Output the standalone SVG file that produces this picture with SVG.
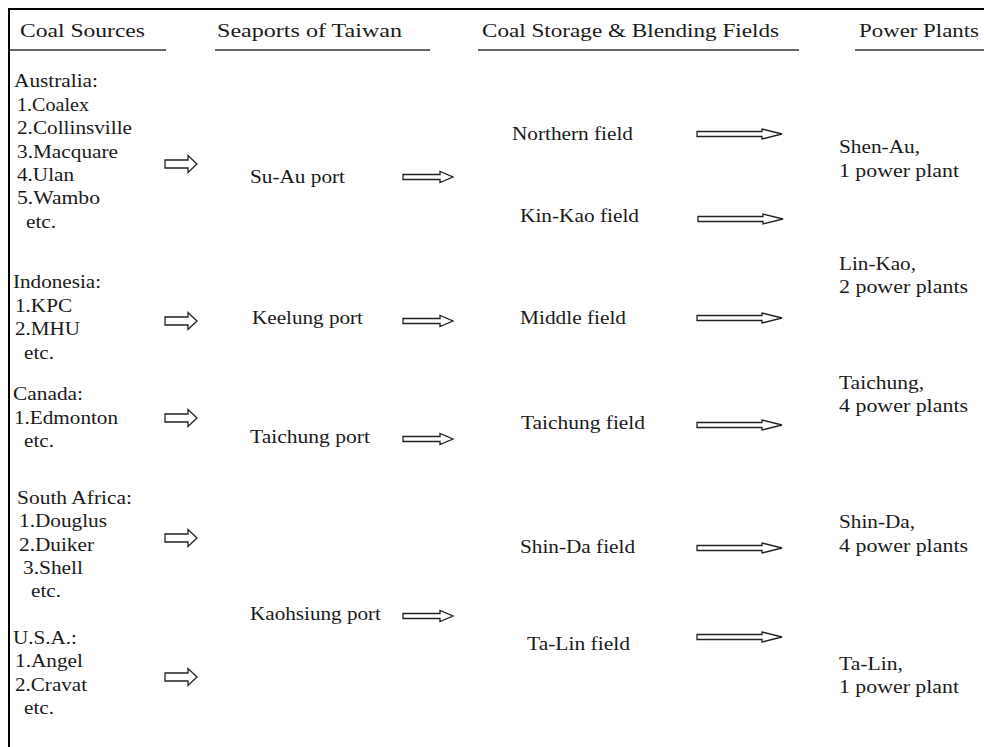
<svg xmlns="http://www.w3.org/2000/svg" width="984" height="747" viewBox="0 0 984 747">
<style>
text{font-family:"Liberation Serif","Times New Roman",serif;fill:#1a1a1a;font-size:18px}
.h{font-size:19px}
.ul{stroke:#333;stroke-width:1.5}
.bd{stroke:#000;stroke-width:2}
.ar{fill:#fff;stroke:#222;stroke-width:1.3;stroke-linejoin:miter}
</style>
<defs>
<path id="aL" class="ar" d="M0,-4 H23 V-8.5 L32,0 L23,8.5 V4 H0 Z"/>
<path id="aP" class="ar" d="M0,-2.5 H37 V-5.5 L50,0 L37,5.5 V2.5 H0 Z"/>
<path id="aF" class="ar" d="M0,-2.5 H65 V-5 L85,0 L65,5 V2.5 H0 Z"/>
</defs>
<g id="frame">
<line class="bd" x1="8" y1="9" x2="984" y2="9"/>
<line class="bd" x1="9" y1="8" x2="9" y2="747"/>
</g>
<g id="headers">
<text class="h" x="20" y="37" textLength="125" lengthAdjust="spacingAndGlyphs">Coal Sources</text>
<line class="ul" x1="10" y1="50" x2="166" y2="50"/>
<text class="h" x="217" y="37" textLength="185" lengthAdjust="spacingAndGlyphs">Seaports of Taiwan</text>
<line class="ul" x1="215" y1="50" x2="430" y2="50"/>
<text class="h" x="482" y="37" textLength="297" lengthAdjust="spacingAndGlyphs">Coal Storage &amp; Blending Fields</text>
<line class="ul" x1="478" y1="50" x2="799" y2="50"/>
<text class="h" x="859" y="37" textLength="120" lengthAdjust="spacingAndGlyphs">Power Plants</text>
<line class="ul" x1="855" y1="50" x2="984" y2="50"/>
</g>
<g id="src-australia">
<text x="14" y="87" textLength="84" lengthAdjust="spacingAndGlyphs">Australia:</text>
<text x="17" y="110.5" textLength="72" lengthAdjust="spacingAndGlyphs">1.Coalex</text>
<text x="17" y="134" textLength="115" lengthAdjust="spacingAndGlyphs">2.Collinsville</text>
<text x="17" y="157.5" textLength="101" lengthAdjust="spacingAndGlyphs">3.Macquare</text>
<text x="17" y="181" textLength="57" lengthAdjust="spacingAndGlyphs">4.Ulan</text>
<text x="17" y="204" textLength="83" lengthAdjust="spacingAndGlyphs">5.Wambo</text>
<text x="26" y="227.5" textLength="30" lengthAdjust="spacingAndGlyphs">etc.</text>
</g>
<g id="src-indonesia">
<text x="13" y="288" textLength="88" lengthAdjust="spacingAndGlyphs">Indonesia:</text>
<text x="15" y="312" textLength="57" lengthAdjust="spacingAndGlyphs">1.KPC</text>
<text x="15" y="335" textLength="65" lengthAdjust="spacingAndGlyphs">2.MHU</text>
<text x="24" y="358.5" textLength="30" lengthAdjust="spacingAndGlyphs">etc.</text>
</g>
<g id="src-canada">
<text x="13" y="400" textLength="70" lengthAdjust="spacingAndGlyphs">Canada:</text>
<text x="14" y="424" textLength="104" lengthAdjust="spacingAndGlyphs">1.Edmonton</text>
<text x="24" y="447" textLength="30" lengthAdjust="spacingAndGlyphs">etc.</text>
</g>
<g id="src-southafrica">
<text x="17" y="504" textLength="115" lengthAdjust="spacingAndGlyphs">South Africa:</text>
<text x="19" y="527" textLength="88" lengthAdjust="spacingAndGlyphs">1.Douglus</text>
<text x="19" y="551" textLength="75" lengthAdjust="spacingAndGlyphs">2.Duiker</text>
<text x="23" y="574" textLength="60" lengthAdjust="spacingAndGlyphs">3.Shell</text>
<text x="31" y="597" textLength="30" lengthAdjust="spacingAndGlyphs">etc.</text>
</g>
<g id="src-usa">
<text x="13" y="644" textLength="64" lengthAdjust="spacingAndGlyphs">U.S.A.:</text>
<text x="15" y="667" textLength="68" lengthAdjust="spacingAndGlyphs">1.Angel</text>
<text x="15" y="691" textLength="72" lengthAdjust="spacingAndGlyphs">2.Cravat</text>
<text x="24" y="714" textLength="30" lengthAdjust="spacingAndGlyphs">etc.</text>
</g>
<g id="port-suau"><text x="250" y="183" textLength="95" lengthAdjust="spacingAndGlyphs">Su-Au port</text></g>
<g id="port-keelung"><text x="252" y="324" textLength="111" lengthAdjust="spacingAndGlyphs">Keelung port</text></g>
<g id="port-taichung"><text x="250" y="443" textLength="120" lengthAdjust="spacingAndGlyphs">Taichung port</text></g>
<g id="port-kaohsiung"><text x="250" y="620" textLength="131" lengthAdjust="spacingAndGlyphs">Kaohsiung port</text></g>
<g id="field-northern"><text x="512" y="140" textLength="121" lengthAdjust="spacingAndGlyphs">Northern field</text></g>
<g id="field-kinkao"><text x="520" y="222" textLength="119" lengthAdjust="spacingAndGlyphs">Kin-Kao field</text></g>
<g id="field-middle"><text x="520" y="324" textLength="106" lengthAdjust="spacingAndGlyphs">Middle field</text></g>
<g id="field-taichung"><text x="521" y="429" textLength="124" lengthAdjust="spacingAndGlyphs">Taichung field</text></g>
<g id="field-shinda"><text x="520" y="553" textLength="115" lengthAdjust="spacingAndGlyphs">Shin-Da field</text></g>
<g id="field-talin"><text x="527" y="650" textLength="103" lengthAdjust="spacingAndGlyphs">Ta-Lin field</text></g>
<g id="plant-shenau">
<text x="839" y="153" textLength="81" lengthAdjust="spacingAndGlyphs">Shen-Au,</text>
<text x="839" y="177" textLength="120" lengthAdjust="spacingAndGlyphs">1 power plant</text>
</g>
<g id="plant-linkao">
<text x="839" y="270" textLength="77" lengthAdjust="spacingAndGlyphs">Lin-Kao,</text>
<text x="839" y="293" textLength="129" lengthAdjust="spacingAndGlyphs">2 power plants</text>
</g>
<g id="plant-taichung">
<text x="839" y="389" textLength="85" lengthAdjust="spacingAndGlyphs">Taichung,</text>
<text x="839" y="412" textLength="129" lengthAdjust="spacingAndGlyphs">4 power plants</text>
</g>
<g id="plant-shinda">
<text x="839" y="528" textLength="76" lengthAdjust="spacingAndGlyphs">Shin-Da,</text>
<text x="839" y="552" textLength="129" lengthAdjust="spacingAndGlyphs">4 power plants</text>
</g>
<g id="plant-talin">
<text x="839" y="670" textLength="64" lengthAdjust="spacingAndGlyphs">Ta-Lin,</text>
<text x="839" y="693" textLength="120" lengthAdjust="spacingAndGlyphs">1 power plant</text>
</g>
<g id="connectors">
<use href="#aL" x="165" y="164"/>
<use href="#aL" x="165" y="321"/>
<use href="#aL" x="165" y="418"/>
<use href="#aL" x="165" y="538"/>
<use href="#aL" x="165" y="677"/>
<use href="#aP" x="403" y="177"/>
<use href="#aP" x="403" y="321"/>
<use href="#aP" x="403" y="439"/>
<use href="#aP" x="403" y="616"/>
<use href="#aF" x="697" y="134"/>
<use href="#aF" x="698" y="219"/>
<use href="#aF" x="697" y="318"/>
<use href="#aF" x="697" y="425"/>
<use href="#aF" x="697" y="548"/>
<use href="#aF" x="697" y="637"/>
</g>
</svg>
